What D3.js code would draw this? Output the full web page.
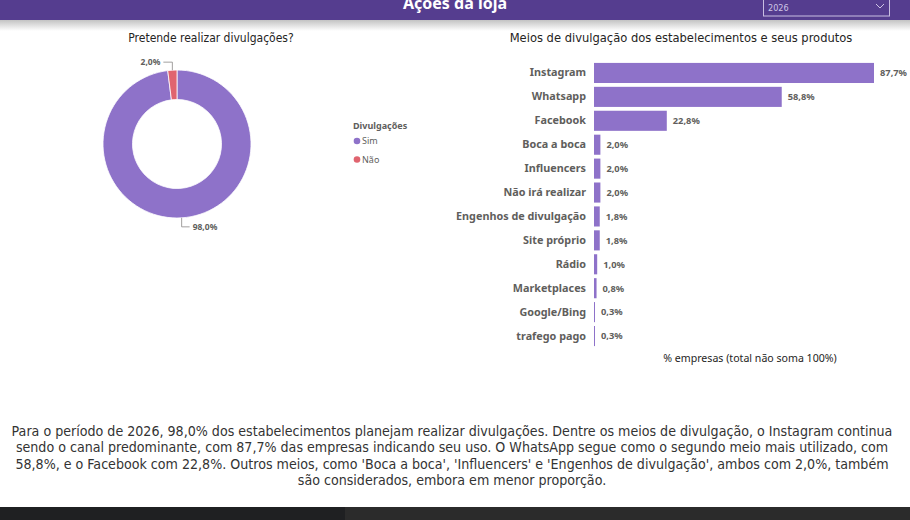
<!DOCTYPE html>
<html>
<head>
<meta charset="utf-8">
<script src="https://cdn.jsdelivr.net/npm/d3@7"></script>
<style>
  html, body { margin: 0; padding: 0; background: #fff; }
  svg { display: block; }
  .din { font-family: "Liberation Sans Narrow", "DejaVu Sans Condensed", sans-serif; }
  .ui { font-family: "Noto Sans", "Open Sans", sans-serif; }
</style>
</head>
<body>
<svg id="chart" width="910" height="520"></svg>
<script>
// ---- data -------------------------------------------------------------------
const meios = ['Instagram', 'Whatsapp', 'Facebook', 'Boca a boca', 'Influencers',
  'Não irá realizar', 'Engenhos de divulgação', 'Site próprio', 'Rádio',
  'Marketplaces', 'Google/Bing', 'trafego pago'];
const meiosPct = [87.7, 58.8, 22.8, 2.0, 2.0, 2.0, 1.8, 1.8, 1.0, 0.8, 0.3, 0.3];

const divulgacoes = ['Sim', 'Não'];
const divulgacoesPct = [98.0, 2.0];

const anoSelecionado = '2026';
const resumo = [
  'Para o período de 2026, 98,0% dos estabelecimentos planejam realizar divulgações. Dentre os meios de divulgação, o Instagram continua',
  'sendo o canal predominante, com 87,7% das empresas indicando seu uso. O WhatsApp segue como o segundo meio mais utilizado, com',
  "58,8%, e o Facebook com 22,8%. Outros meios, como 'Boca a boca', 'Influencers' e 'Engenhos de divulgação', ambos com 2,0%, também",
  'são considerados, embora em menor proporção.'
];

const PURPLE = '#8E72C9', RED = '#E0646F', GREY = '#605E5C', DARK = '#252423';
const fmt = v => d3.format('.1f')(v).replace('.', ',') + '%';

const svg = d3.select('#chart');
const defs = svg.append('defs');

// ---- header -----------------------------------------------------------------
const shadow = defs.append('linearGradient').attr('id', 'hdrShadow')
  .attr('x1', 0).attr('x2', 0).attr('y1', 0).attr('y2', 1);
shadow.append('stop').attr('offset', '0%').attr('stop-color', '#bdbdbd');
shadow.append('stop').attr('offset', '100%').attr('stop-color', '#fff');

svg.append('rect').attr('x', 0).attr('y', 19).attr('width', 910).attr('height', 12)
  .attr('fill', 'url(#hdrShadow)');
svg.append('rect').attr('x', 0).attr('y', 0).attr('width', 910).attr('height', 20)
  .attr('fill', '#553D8F');
// the title sits half above the top edge, as in the original capture
svg.append('text').attr('class', 'ui')
  .attr('x', 455).attr('y', 9).attr('text-anchor', 'middle')
  .attr('fill', '#fff').attr('font-size', 16).attr('font-weight', 'bold')
  .text('Ações da loja');

// year slicer
svg.append('rect').attr('x', 763.5).attr('y', -1).attr('width', 126).attr('height', 17)
  .attr('fill', 'none').attr('stroke', '#c9bfe2').attr('stroke-width', 1);
svg.append('text').attr('class', 'din')
  .attr('x', 768).attr('y', 11).attr('fill', '#cfc6e6').attr('font-size', 9)
  .text(anoSelecionado);
svg.append('path').attr('d', 'M876,4 l4,4 l4,-4')
  .attr('fill', 'none').attr('stroke', '#cfc6e6').attr('stroke-width', 1);

// ---- donut ------------------------------------------------------------------
svg.append('text').attr('class', 'din')
  .attr('x', 211).attr('y', 42).attr('text-anchor', 'middle')
  .attr('fill', DARK).attr('font-size', 12)
  .text('Pretende realizar divulgações?');

const cx = 177, cy = 144, rOut = 74, rIn = 44.5;
const donutColor = d3.scaleOrdinal().domain(divulgacoes).range([PURPLE, RED]);
const pie = d3.pie().sort(null).value(d => d.v);
const arcs = pie(divulgacoes.map((k, i) => ({ k, v: divulgacoesPct[i] })));
const arc = d3.arc().innerRadius(rIn).outerRadius(rOut);

const gDonut = svg.append('g').attr('transform', `translate(${cx},${cy})`);
gDonut.selectAll('path').data(arcs).join('path')
  .attr('d', arc)
  .attr('fill', d => donutColor(d.data.k))
  .attr('stroke', '#fff').attr('stroke-width', 0.8);

// leader lines + labels
arcs.forEach(d => {
  const a = (d.startAngle + d.endAngle) / 2;
  const px = Math.sin(a) * rOut, py = -Math.cos(a) * rOut;
  const top = py < 0;
  const ey = top ? py - 8 : py + 9;
  const ex = top ? px - 9 : px + 8;
  gDonut.append('path')
    .attr('d', `M${px},${py} L${px},${ey} L${ex},${ey}`)
    .attr('fill', 'none').attr('stroke', '#8a8886').attr('stroke-width', 0.8);
  gDonut.append('text').attr('class', 'ui')
    .attr('x', top ? ex - 3 : ex + 3).attr('y', ey + 3)
    .attr('text-anchor', top ? 'end' : 'start')
    .attr('fill', GREY).attr('font-size', 8.5).attr('font-weight', 'bold')
    .text(fmt(d.data.v));
});

// legend
const gLeg = svg.append('g').attr('transform', 'translate(353,0)');
gLeg.append('text').attr('class', 'ui')
  .attr('x', 0).attr('y', 129).attr('fill', GREY)
  .attr('font-size', 9).attr('font-weight', 'bold').text('Divulgações');
const legY = d3.scalePoint().domain(divulgacoes).range([141, 159.5]);
divulgacoes.forEach(k => {
  gLeg.append('circle').attr('cx', 4).attr('cy', legY(k)).attr('r', 3.3)
    .attr('fill', donutColor(k));
  gLeg.append('text').attr('class', 'ui')
    .attr('x', 9).attr('y', legY(k) + 3.2).attr('fill', GREY)
    .attr('font-size', 9).text(k);
});

// ---- bar chart --------------------------------------------------------------
svg.append('text').attr('class', 'din')
  .attr('x', 681).attr('y', 42).attr('text-anchor', 'middle')
  .attr('fill', DARK).attr('font-size', 12.8)
  .text('Meios de divulgação dos estabelecimentos e seus produtos');

const x = d3.scaleLinear().domain([0, d3.max(meiosPct)]).range([594, 874]);
const y = d3.scaleBand().domain(meios).range([61, 348]).paddingInner(0.16).paddingOuter(0.08);

svg.append('g').selectAll('rect').data(meios).join('rect')
  .attr('x', x(0))
  .attr('y', d => y(d))
  .attr('width', (d, i) => Math.max(1, x(meiosPct[i]) - x(0)))
  .attr('height', y.bandwidth())
  .attr('fill', PURPLE);

const yAxis = svg.append('g').attr('transform', `translate(${x(0) - 3},0)`)
  .call(d3.axisLeft(y).tickSize(0).tickPadding(5));
yAxis.select('.domain').remove();
yAxis.selectAll('text')
  .attr('class', 'ui').attr('fill', GREY)
  .attr('font-size', 10.8).attr('font-weight', 'bold')
  .style('font-family', '"Noto Sans", "Open Sans", sans-serif');

svg.append('g').selectAll('text').data(meios).join('text')
  .attr('class', 'ui')
  .attr('x', (d, i) => x(meiosPct[i]) + 6)
  .attr('y', d => y(d) + y.bandwidth() / 2 + 3.3)
  .attr('fill', GREY).attr('font-size', 9.3).attr('font-weight', 'bold')
  .text((d, i) => fmt(meiosPct[i]));

svg.append('text').attr('class', 'ui')
  .attr('x', 750).attr('y', 362).attr('text-anchor', 'middle')
  .attr('fill', DARK).attr('font-size', 10.6)
  .text('% empresas (total não soma 100%)');

// ---- summary text -----------------------------------------------------------
const lineY = d3.scaleLinear().domain([0, resumo.length - 1]).range([436, 485]);
svg.append('g').selectAll('text').data(resumo).join('text')
  .attr('class', 'din')
  .attr('x', 452).attr('y', (d, i) => lineY(i))
  .attr('text-anchor', 'middle')
  .attr('fill', '#333').attr('font-size', 14.1)
  .text(d => d);

// ---- dark strip at the bottom ---------------------------------------------
svg.append('rect').attr('x', 0).attr('y', 507).attr('width', 910).attr('height', 13)
  .attr('fill', '#2b2b2b');
svg.append('rect').attr('x', 0).attr('y', 507).attr('width', 345).attr('height', 13)
  .attr('fill', '#1f2022');
</script>
</body>
</html>
